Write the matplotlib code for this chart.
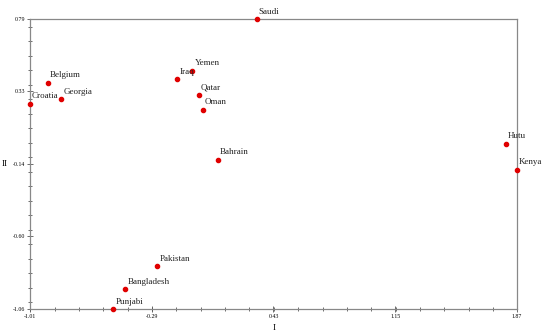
import matplotlib.pyplot as plt
from matplotlib.ticker import MultipleLocator, FixedLocator

# point coordinates
names = ['Saudi', 'Belgium', 'Croatia', 'Georgia', 'Iraq', 'Yemen', 'Qatar', 'Oman',
         'Bahrain', 'Hutu', 'Kenya', 'Pakistan', 'Bangladesh', 'Punjabi']
xs = [0.33, -0.905, -1.01, -0.825, -0.139, -0.050, -0.012, 0.013,
      0.100, 1.805, 1.87, -0.257, -0.446, -0.517]
ys = [0.79, 0.384, 0.248, 0.278, 0.407, 0.460, 0.307, 0.210,
      -0.109, -0.007, -0.173, -0.786, -0.934, -1.06]

xticks = [-1.01, -0.29, 0.43, 1.15, 1.87]
yticks = [-1.06, -0.60, -0.14, 0.33, 0.79]
ytick_pos = [-1.06, -0.5975, -0.135, 0.3275, 0.79]

plt.rcParams['font.family'] = 'Liberation Serif'

fig = plt.figure(figsize=(5.5, 3.36), dpi=100)
ax = fig.add_axes([0.0545, 0.0804, 0.8855, 0.8631])
ax.scatter(xs, ys, s=9, color='#e00000', zorder=3, clip_on=False)
for n, x, y in zip(names, xs, ys):
    ax.annotate(n, (x, y), xytext=(1.5, 2.5), textcoords='offset points',
                fontsize=6.5, color='#222222', ha='left', va='bottom')

ax.set_xlim(-1.01, 1.87)
ax.set_ylim(-1.06, 0.79)
ax.xaxis.set_major_locator(FixedLocator(xticks))
ax.set_xticklabels([f'{t:.2f}' for t in xticks])
ax.xaxis.set_minor_locator(MultipleLocator(0.144))
ax.yaxis.set_major_locator(FixedLocator(ytick_pos))
ax.set_yticklabels([f'{t:.2f}' for t in yticks])
ax.yaxis.set_minor_locator(MultipleLocator(1.85 / 20))
ax.tick_params(which='both', labelsize=4.2, color='#555555', direction='inout',
               length=4, width=0.6, pad=1.5)
ax.tick_params(which='minor', length=2.5)
for s in ax.spines.values():
    s.set_color('#888888')
    s.set_linewidth(0.9)

fig.text(274 / 550, 1 - 328 / 336, 'I', fontsize=6.5, ha='center', va='center')
fig.text(5 / 550, 1 - 164 / 336, 'II', fontsize=6.5, ha='center', va='center')

fig.savefig('out.png', dpi=100)
